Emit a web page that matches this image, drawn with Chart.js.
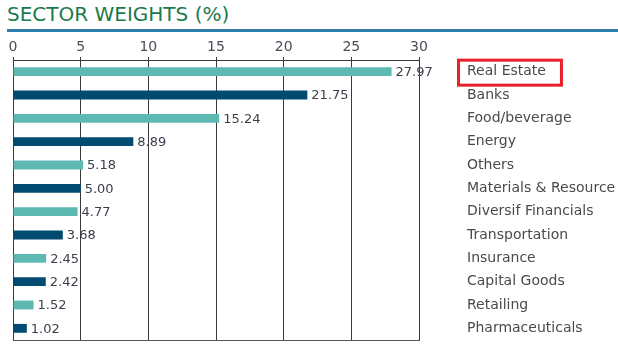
<!DOCTYPE html>
<html>
<head>
<meta charset="utf-8">
<script src="https://cdn.jsdelivr.net/npm/chart.js@4.4.0/dist/chart.umd.min.js"></script>
<style>
  body { margin: 0; background: #fff; font-family: "DejaVu Sans", sans-serif; }
  #title { position: absolute; left: 7px; top: 2px; font-size: 20px; color: #1b7a4c; white-space: nowrap; }
  #rule { position: absolute; left: 7px; top: 29px; width: 611px; height: 3px; background: #2e7fad; }
  #wrap { position: absolute; left: 0; top: 32px; width: 618px; height: 315px; }
</style>
</head>
<body>
<div id="title">SECTOR WEIGHTS (%)</div>
<div id="rule"></div>
<div id="wrap"><canvas id="sectorChart"></canvas></div>
<script>
var sectors = ['Real Estate', 'Banks', 'Food/beverage', 'Energy', 'Others', 'Materials & Resource',
  'Diversif Financials', 'Transportation', 'Insurance', 'Capital Goods', 'Retailing', 'Pharmaceuticals'];
var weights = [27.97, 21.75, 15.24, 8.89, 5.18, 5.00, 4.77, 3.68, 2.45, 2.42, 1.52, 1.02];
var axisMin = 0;
var axisMax = 30;
var axisStep = 5;

var TEAL = '#5db9b1';
var NAVY = '#004b6f';
var FONT = '"DejaVu Sans", sans-serif';

// bars alternate teal / navy down the list
var barColors = sectors.map(function (s, i) { return i % 2 === 0 ? TEAL : NAVY; });

var valueLabels = {
  id: 'valueLabels',
  afterDatasetsDraw: function (chart) {
    var ctx = chart.ctx;
    var meta = chart.getDatasetMeta(0);
    ctx.save();
    ctx.font = '13px ' + FONT;
    ctx.fillStyle = '#3b3f4c';
    ctx.textBaseline = 'middle';
    meta.data.forEach(function (bar, i) {
      ctx.fillText(weights[i].toFixed(2), bar.x + 4, bar.y + 1);
    });
    ctx.restore();
  },
  afterDraw: function (chart) {
    // red frame round the first sector name
    var ctx = chart.ctx;
    var y = chart.scales.y.getPixelForTick(0);
    var x = chart.chartArea.right + 48;
    ctx.save();
    ctx.font = '14px ' + FONT;
    var w = ctx.measureText(sectors[0]).width;
    ctx.strokeStyle = '#e8202a';
    ctx.lineWidth = 3;
    ctx.strokeRect(x - 8.5, y - 11.5, w + 24, 25);
    ctx.restore();
  }
};

var ctx = document.getElementById('sectorChart').getContext('2d');
var chart = new Chart(ctx, {
  type: 'bar',
  data: {
    labels: sectors,
    datasets: [{
      data: weights,
      backgroundColor: barColors,
      borderWidth: 0,
      categoryPercentage: 1,
      barPercentage: 0.38
    }]
  },
  options: {
    indexAxis: 'y',
    responsive: true,
    maintainAspectRatio: false,
    animation: false,
    layout: { padding: { left: 13, right: 0, top: 0, bottom: 0 } },
    plugins: {
      legend: { display: false },
      tooltip: { enabled: false }
    },
    scales: {
      x: {
        type: 'linear',
        position: 'top',
        min: axisMin,
        max: axisMax,
        z: 1,
        ticks: { stepSize: axisStep, padding: 1, color: '#4a4c58', font: { family: FONT, size: 14 } },
        grid: { color: '#3a3a3a', lineWidth: 1, tickLength: 3, drawTicks: true },
        border: { display: true, color: '#3a3a3a', width: 1 },
        afterFit: function (scale) { scale.height = 28; }
      },
      xBottom: {
        type: 'linear',
        axis: 'x',
        position: 'bottom',
        min: axisMin,
        max: axisMax,
        z: 1,
        ticks: { display: false },
        grid: { display: false, drawTicks: false },
        border: { display: true, color: '#555555', width: 1 },
        afterFit: function (scale) { scale.height = 7; }
      },
      y: {
        position: 'right',
        grid: { display: false, drawTicks: false },
        border: { display: false },
        ticks: { padding: 48, color: '#4a4a4a', font: { family: FONT, size: 14 } },
        afterFit: function (scale) {
          // the label gap should not eat into the plot height
          scale.width = 199;
          scale.paddingTop = 0;
          scale.paddingBottom = 0;
        }
      }
    }
  },
  plugins: [valueLabels]
});
</script>
</body>
</html>
